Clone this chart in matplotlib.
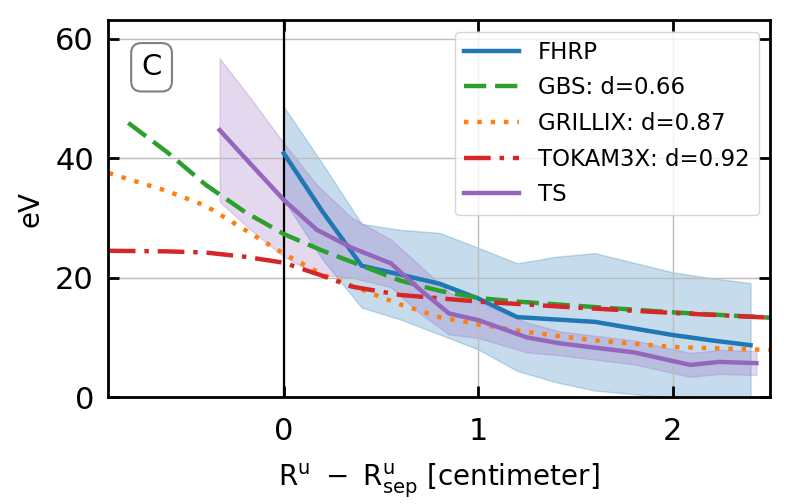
import matplotlib
matplotlib.use("Agg")
from matplotlib import pyplot as plt

# FHRP mean and spread
fhrp_x = [0.0, 0.2, 0.4, 0.6, 0.8, 1.0, 1.2, 1.4, 1.6, 1.8, 2.0, 2.2, 2.4]
fhrp_y = [40.8, 31.0, 22.0, 20.5, 19.0, 16.5, 13.4, 13.0, 12.6, 11.5, 10.4, 9.5, 8.7]
fhrp_err = [7.8, 8.0, 7.0, 7.5, 8.5, 8.5, 9.0, 10.5, 11.5, 11.0, 10.5, 10.4, 10.4]

# TS mean and spread
ts_x = [-0.33, -0.17, 0.0, 0.17, 0.35, 0.55, 0.7, 0.85, 1.0, 1.25, 1.42, 1.57, 1.8, 2.09, 2.24, 2.43]
ts_y = [44.7, 39.0, 33.0, 28.0, 25.0, 22.4, 18.0, 14.0, 12.9, 10.0, 9.0, 8.4, 7.5, 5.4, 5.9, 5.7]
ts_err = [12.0, 11.0, 9.5, 7.5, 5.0, 4.0, 4.0, 3.5, 3.0, 2.5, 2.0, 2.0, 2.0, 2.0, 2.0, 2.0]

# simulations
gbs_x = [-0.8, -0.6, -0.4, -0.2, 0.0, 0.2, 0.4, 0.6, 0.8, 1.0, 1.2, 1.5, 2.0, 2.5]
gbs_y = [45.9, 41.0, 35.5, 31.0, 27.3, 24.5, 22.0, 19.5, 17.8, 16.6, 16.0, 15.3, 14.2, 13.3]

grx_x = [-0.9, -0.6, -0.4, -0.2, 0.0, 0.2, 0.4, 0.6, 0.8, 1.0, 1.25, 1.6, 2.0, 2.5]
grx_y = [37.5, 34.5, 32.0, 28.0, 24.0, 20.5, 18.0, 15.5, 13.4, 12.2, 10.9, 9.5, 8.4, 7.9]

tok_x = [-0.9, -0.6, -0.4, -0.2, 0.0, 0.2, 0.35, 0.6, 1.0, 1.5, 2.0, 2.5]
tok_y = [24.5, 24.4, 24.2, 23.5, 22.5, 20.3, 18.5, 17.1, 16.0, 15.0, 14.1, 13.3]

fig = plt.figure(figsize=(7.93, 5.04), dpi=100)
ax = fig.add_axes([0.136, 0.212, 0.835, 0.748])

lo = [m - e for m, e in zip(fhrp_y, fhrp_err)]
hi = [m + e for m, e in zip(fhrp_y, fhrp_err)]
ax.fill_between(fhrp_x, lo, hi, color="#1f77b4", alpha=0.25)
lo = [m - e for m, e in zip(ts_y, ts_err)]
hi = [m + e for m, e in zip(ts_y, ts_err)]
ax.fill_between(ts_x, lo, hi, color="#9467bd", alpha=0.25)

ax.axvline(0, color="black", lw=1.6)

ax.plot(fhrp_x, fhrp_y, color="#1f77b4", lw=3.2, label="FHRP")
ax.plot(gbs_x, gbs_y, color="#2ca02c", lw=3.2, ls=(0, (5, 2)), label="GBS: d=0.66")
ax.plot(grx_x, grx_y, color="#ff7f0e", lw=3.2, ls=(0, (1, 2)), label="GRILLIX: d=0.87")
ax.plot(tok_x, tok_y, color="#d62728", lw=3.2, ls=(0, (6, 2, 1, 2)), label="TOKAM3X: d=0.92")
ax.plot(ts_x, ts_y, color="#9467bd", lw=3.2, label="TS")

ax.set_xlim(-0.905, 2.5)
ax.set_ylim(0, 63.1)
ax.set_xticks([0, 1, 2])
ax.set_yticks([0, 20, 40, 60])
ax.grid(True, color="#bcbcbc", lw=1)
ax.tick_params(direction="in", length=8, width=2, labelsize=22, top=True, right=True)
ax.tick_params(axis="x", pad=14)
ax.tick_params(axis="y", pad=10)
for s in ax.spines.values():
    s.set_linewidth(2)

ax.set_xlabel(r"$\mathrm{R^u\ -\ R^u_{sep}}$ [centimeter]", fontsize=20, labelpad=12)
ax.set_ylabel("eV", fontsize=20, labelpad=8)

ax.text(0.066, 0.875, "C", transform=ax.transAxes, fontsize=21, ha="center", va="center",
        bbox=dict(boxstyle="round,pad=0.35", fc="white", ec="gray", lw=1.5))

ax.legend(loc="upper right", fontsize=16.5, handlelength=2.4, labelspacing=0.55,
          framealpha=0.8)

plt.savefig("out.png", dpi=100)
